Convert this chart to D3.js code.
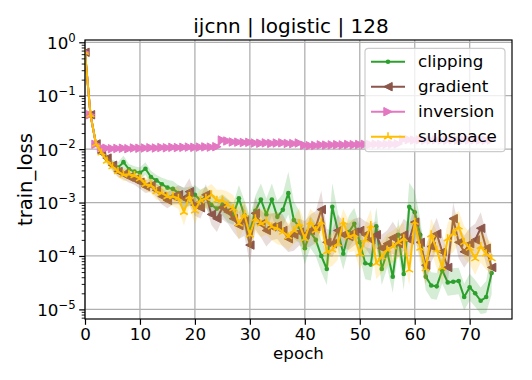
<!DOCTYPE html>
<html><head><meta charset="utf-8">
<script src="https://cdn.jsdelivr.net/npm/d3@7"></script>
<style>
html,body{margin:0;padding:0;background:#fff;}
svg{display:block;font-family:"DejaVu Sans",sans-serif;}
</style></head><body>
<svg id="chart" width="532" height="380"></svg>
<script>
const epochs = d3.range(75);
const clipping = [
0.65,0.044,0.0125,0.009,0.0065,0.005,0.0045,0.0057,0.0042,0.0038,
0.0036,0.0043,0.003,0.0026,0.0022,0.0019,0.0018,0.0015,0.0012,0.0013,
0.0014,0.0011,0.00126,0.0009,0.00077,0.0009,0.0007,0.0006,0.0012,0.00058,
0.00028,0.0007,0.00114,0.0006,0.00114,0.00054,0.00073,0.0015,0.00047,0.00035,
0.00014,0.00028,0.0002,0.0001,0.000057,0.00083,0.0003,0.00011,0.00028,0.0004,
0.00018,0.000073,0.000069,0.00036,0.000057,0.00012,0.000041,0.00025,0.000046,0.00083,
0.00066,0.00025,0.000041,0.000028,0.000027,0.000054,0.000032,0.000033,0.000034,0.000017,
0.000026,0.00002,0.0000145,0.000017,0.000048];
const gradient = [
0.65,0.044,0.0125,0.0085,0.0068,0.005,0.0038,0.0034,0.003,0.0027,
0.0024,0.002,0.0021,0.0017,0.0013,0.0011,0.0013,0.0014,0.0012,0.0016,
0.0009,0.0008,0.0014,0.0006,0.0005,0.0008,0.00067,0.0005,0.00037,0.00047,
0.00016,0.00063,0.0004,0.0003,0.00035,0.00037,0.0003,0.00021,0.00025,0.00028,
0.00025,0.0003,0.00035,0.00074,0.00018,0.00017,0.0003,0.00025,0.00023,0.00028,
0.0003,0.00025,0.0002,0.00025,0.00014,0.00017,0.00022,0.00017,0.00025,0.0002,
0.00043,0.00018,0.000067,0.00015,0.00026,0.00012,0.000061,0.0005,0.00018,0.00012,
0.00017,0.0002,0.00033,0.00014,0.000061];
const inversion = [
0.65,0.044,0.0123,0.0108,0.0104,0.0102,0.0103,0.0104,0.0102,0.0105,
0.0104,0.0105,0.0106,0.0105,0.0107,0.0106,0.0108,0.0107,0.0108,0.0109,
0.0108,0.0109,0.011,0.0109,0.0111,0.0148,0.0142,0.0136,0.0135,0.0133,
0.0134,0.013,0.0129,0.0131,0.0128,0.013,0.0131,0.0128,0.0127,0.013,
0.0118,0.0116,0.0117,0.012,0.0119,0.012,0.0121,0.012,0.0122,0.0121,
0.0122,0.0123,0.0122,0.0124,0.0123,0.0124,0.0124,0.0125,0.0152,0.015,
0.0148,0.0149,0.0147,0.0148,0.0149,0.0148,0.0147,0.0149,0.0148,0.0149,
0.0148,0.0149,0.0148,0.0147,0.0148];
const subspace = [
0.65,0.044,0.0125,0.0085,0.006,0.0047,0.0038,0.0033,0.0034,0.0032,
0.0028,0.0022,0.0021,0.0016,0.0015,0.0013,0.0013,0.0012,0.00066,0.0013,
0.0007,0.0011,0.0012,0.0014,0.0011,0.0011,0.0009,0.00077,0.0004,0.0006,
0.00025,0.0005,0.0004,0.00045,0.00035,0.00033,0.00028,0.00023,0.0003,0.0004,
0.00021,0.00043,0.0003,0.00043,0.00012,0.00013,0.00017,0.00043,0.00023,0.00025,
0.00011,0.0002,0.00037,0.000073,0.000096,0.00013,0.00015,0.00018,0.00021,0.000055,
0.00043,0.00014,0.000058,0.00025,0.00013,0.00006,0.00021,0.00026,0.00035,0.00018,
0.00014,0.000089,0.00015,0.00011,0.000089];
// band half-widths, in decades
const clippingSpread = [
0.02,0.03,0.04,0.06,0.08,0.1,0.1,0.12,0.1,0.1,
0.1,0.12,0.12,0.1,0.12,0.15,0.15,0.15,0.2,0.18,
0.18,0.2,0.2,0.22,0.2,0.2,0.22,0.2,0.25,0.28,
0.3,0.28,0.3,0.3,0.3,0.3,0.3,0.4,0.35,0.3,
0.3,0.3,0.3,0.3,0.3,0.44,0.35,0.3,0.3,0.3,
0.3,0.3,0.3,0.35,0.3,0.3,0.3,0.3,0.3,0.45,
0.4,0.3,0.25,0.25,0.25,0.25,0.25,0.25,0.25,0.25,
0.25,0.25,0.25,0.3,0.4];
const gradientSpread = [
0.02,0.03,0.04,0.06,0.08,0.08,0.1,0.1,0.1,0.1,
0.12,0.12,0.12,0.12,0.15,0.15,0.15,0.18,0.2,0.25,
0.2,0.2,0.2,0.2,0.25,0.22,0.22,0.25,0.25,0.3,
0.35,0.3,0.25,0.3,0.25,0.25,0.3,0.25,0.3,0.25,
0.25,0.3,0.3,0.35,0.25,0.25,0.3,0.25,0.25,0.25,
0.25,0.25,0.3,0.25,0.25,0.25,0.3,0.25,0.3,0.3,
0.3,0.3,0.35,0.3,0.3,0.3,0.3,0.3,0.3,0.3,
0.3,0.3,0.3,0.3,0.3];
const inversionSpread = [
0.02,0.03,0.04,0.04,0.04,0.04,0.04,0.04,0.04,0.04,
0.04,0.04,0.04,0.04,0.04,0.04,0.04,0.04,0.04,0.04,
0.04,0.04,0.04,0.04,0.04,0.05,0.05,0.05,0.05,0.05,
0.05,0.05,0.05,0.05,0.05,0.05,0.05,0.05,0.05,0.05,
0.04,0.04,0.04,0.04,0.04,0.04,0.04,0.04,0.04,0.04,
0.05,0.05,0.05,0.05,0.05,0.05,0.05,0.05,0.05,0.05,
0.05,0.05,0.05,0.05,0.05,0.05,0.05,0.05,0.05,0.05,
0.05,0.05,0.05,0.05,0.05];
const subspaceSpread = [
0.02,0.03,0.04,0.06,0.08,0.1,0.1,0.12,0.12,0.12,
0.12,0.12,0.15,0.15,0.15,0.15,0.18,0.2,0.25,0.2,
0.25,0.2,0.2,0.2,0.2,0.2,0.25,0.25,0.3,0.25,
0.3,0.25,0.25,0.25,0.25,0.3,0.25,0.25,0.25,0.3,
0.3,0.25,0.3,0.25,0.3,0.3,0.3,0.25,0.3,0.3,
0.3,0.3,0.3,0.3,0.3,0.3,0.3,0.3,0.3,0.3,
0.3,0.3,0.3,0.3,0.35,0.3,0.3,0.35,0.3,0.3,
0.3,0.3,0.3,0.3,0.3];

const seriesNames = ["clipping","gradient","inversion","subspace"];
const seriesColors = ["#2ca02c","#8c564b","#e377c2","#ffbf00"];
const seriesMarkers = ["circle","triLeft","triRight","triUp"];
const xTickValues = [0,10,20,30,40,50,60,70];
const yTickExponents = [0,-1,-2,-3,-4,-5];
const titleText = "ijcnn | logistic | 128";
const xLabel = "epoch";
const yLabel = "train_loss";

const allValues = [clipping, gradient, inversion, subspace];
const allSpreads = [clippingSpread, gradientSpread, inversionSpread, subspaceSpread];

const svg = d3.select("#chart");
const L = 85, R = 512, T = 40, B = 319;
const FS = 16.7;
const x = d3.scaleLinear().domain([0, 77.7]).range([L, R]);
const y = d3.scaleLog().domain([Math.pow(10,-5.18), Math.pow(10,0.043)]).range([B, T]);

svg.append("defs").append("clipPath").attr("id","plotclip")
  .append("rect").attr("x",L).attr("y",T).attr("width",R-L).attr("height",B-T);

// grid
const grid = svg.append("g");
xTickValues.forEach(v => grid.append("line").attr("x1",x(v)).attr("x2",x(v)).attr("y1",T).attr("y2",B)
  .attr("stroke","#b0b0b0").attr("stroke-width",1.3));
yTickExponents.forEach(e => grid.append("line").attr("x1",L).attr("x2",R).attr("y1",y(Math.pow(10,e))).attr("y2",y(Math.pow(10,e)))
  .attr("stroke","#b0b0b0").attr("stroke-width",1.3));

function markerPath(kind, cx, cy) {
  const s = 4.2;
  if (kind === "triLeft") return `M${cx-s},${cy}L${cx+s},${cy-s}L${cx+s},${cy+s}Z`;
  if (kind === "triRight") return `M${cx+s},${cy}L${cx-s},${cy-s}L${cx-s},${cy+s}Z`;
  if (kind === "triUp") return `M${cx},${cy}L${cx},${cy-4.5}M${cx},${cy}L${cx-3.9},${cy+2.25}M${cx},${cy}L${cx+3.9},${cy+2.25}`;
  return "";
}

const plot = svg.append("g").attr("clip-path","url(#plotclip)");
allValues.forEach((vals, si) => {
  const col = seriesColors[si];
  const sp = allSpreads[si];
  const data = epochs.map((e,i) => ({e, v: vals[i], s: sp[i]}));
  const g = plot.append("g");
  g.append("path").datum(data)
    .attr("d", d3.area().x(d=>x(d.e)).y0(d=>y(d.v/Math.pow(10,d.s))).y1(d=>y(d.v*Math.pow(10,d.s))))
    .attr("fill", col).attr("fill-opacity", 0.2).attr("stroke","none");
  g.append("path").datum(data)
    .attr("d", d3.line().x(d=>x(d.e)).y(d=>y(d.v)))
    .attr("fill","none").attr("stroke",col).attr("stroke-width",2).attr("stroke-linejoin","round");
  const kind = seriesMarkers[si];
  if (kind === "circle") {
    g.selectAll("circle").data(data).join("circle")
      .attr("cx",d=>x(d.e)).attr("cy",d=>y(d.v)).attr("r",2.3).attr("fill",col);
  } else if (kind === "triUp") {
    g.selectAll("path.m").data(data).join("path").attr("class","m")
      .attr("d",d=>markerPath(kind, x(d.e), y(d.v))).attr("fill","none").attr("stroke",col).attr("stroke-width",1.6);
  } else {
    g.selectAll("path.m").data(data).join("path").attr("class","m")
      .attr("d",d=>markerPath(kind, x(d.e), y(d.v))).attr("fill",col).attr("stroke",col).attr("stroke-width",1);
  }
});

// axes
const xAxis = svg.append("g").attr("transform",`translate(0,${B})`)
  .call(d3.axisBottom(x).tickValues(xTickValues).tickSize(5.8).tickPadding(3).tickFormat(d3.format("d")));
xAxis.select(".domain").remove();
xAxis.selectAll("text").attr("font-size",FS).attr("font-family","DejaVu Sans").attr("fill","#000");
xAxis.selectAll("line").attr("stroke","#000").attr("stroke-width",1.2);

const yAxis = svg.append("g").attr("transform",`translate(${L},0)`)
  .call(d3.axisLeft(y).tickValues(yTickExponents.map(e=>Math.pow(10,e))).tickSize(5.8).tickPadding(3.5).tickFormat(()=>"" ));
yAxis.select(".domain").remove();
yAxis.selectAll("line").attr("stroke","#000").attr("stroke-width",1.2);
yAxis.selectAll(".tick text").each(function(d, i) {
  const t = d3.select(this);
  t.text(null).attr("font-size",FS).attr("font-family","DejaVu Sans").attr("fill","#000").attr("dy","0.36em");
  t.append("tspan").text("10");
  const ex = Math.round(Math.log10(d));
  t.append("tspan").attr("font-size",FS*0.7).attr("dy","-0.62em").text(ex < 0 ? "\u2212" + (-ex) : String(ex));
});
// minor ticks
const minorVals = [];
for (let e = -6; e <= 0; e++) for (let m = 2; m <= 9; m++) {
  const v = m * Math.pow(10, e);
  if (v >= y.domain()[0] && v <= y.domain()[1]) minorVals.push(v);
}
const yMinor = svg.append("g").attr("transform",`translate(${L},0)`)
  .call(d3.axisLeft(y).tickValues(minorVals).tickSize(3.3).tickFormat(()=>""));
yMinor.select(".domain").remove();
yMinor.selectAll("line").attr("stroke","#000").attr("stroke-width",0.9);

// frame
svg.append("rect").attr("x",L).attr("y",T).attr("width",R-L).attr("height",B-T)
  .attr("fill","none").attr("stroke","#000").attr("stroke-width",1.2);

// labels
svg.append("text").attr("x",291).attr("y",33).attr("text-anchor","middle")
  .attr("font-size",20).attr("fill","#000").text(titleText);
svg.append("text").attr("x",(L+R)/2).attr("y",359).attr("text-anchor","middle")
  .attr("font-size",16.7).attr("fill","#000").text(xLabel);
svg.append("text").attr("transform",`translate(32,${(T+B)/2}) rotate(-90)`).attr("text-anchor","middle")
  .attr("font-size",19.5).attr("fill","#000").text(yLabel);

// legend
const lg = svg.append("g");
lg.append("rect").attr("x",365).attr("y",48.3).attr("width",140).attr("height",103.4).attr("rx",3.5)
  .attr("fill","#fff").attr("fill-opacity",0.8).attr("stroke","#cccccc").attr("stroke-width",1.2);
seriesNames.forEach((name, si) => {
  const ry = 61.7 + si*25;
  const col = seriesColors[si];
  lg.append("line").attr("x1",371).attr("x2",405).attr("y1",ry).attr("y2",ry).attr("stroke",col).attr("stroke-width",2);
  const kind = seriesMarkers[si];
  if (kind === "circle") lg.append("circle").attr("cx",388).attr("cy",ry).attr("r",2.3).attr("fill",col);
  else if (kind === "triUp") lg.append("path").attr("d",markerPath(kind,388,ry)).attr("fill","none").attr("stroke",col).attr("stroke-width",1.6);
  else lg.append("path").attr("d",markerPath(kind,388,ry)).attr("fill",col).attr("stroke",col).attr("stroke-width",1);
  lg.append("text").attr("x",418).attr("y",ry+5.5).attr("font-size",FS).attr("fill","#000").text(name);
});
</script>
</body></html>
